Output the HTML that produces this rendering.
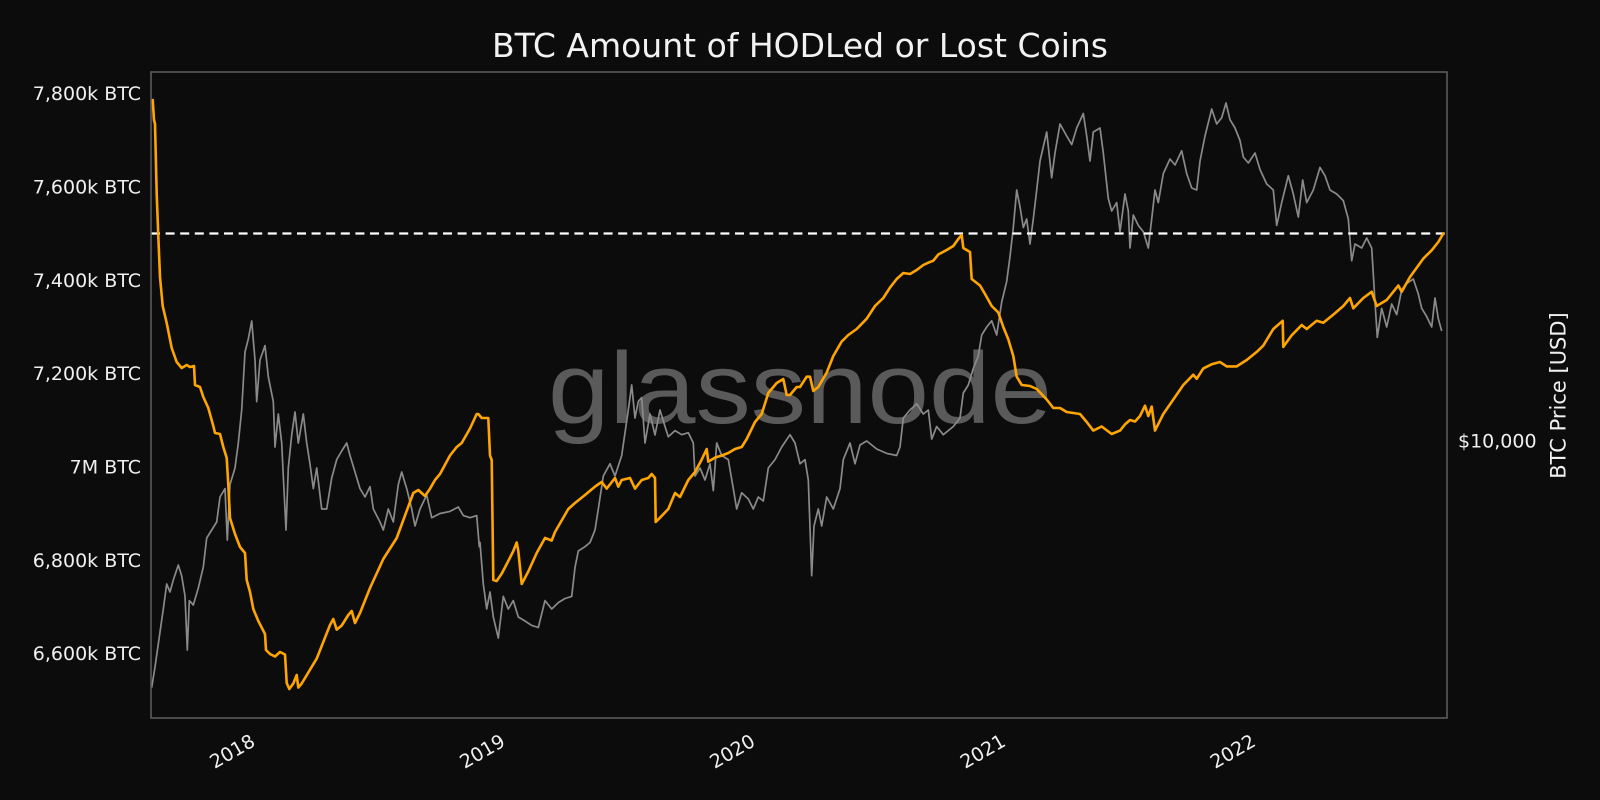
<!DOCTYPE html>
<html>
<head>
<meta charset="utf-8">
<style>
  html,body{margin:0;padding:0;background:#0c0c0c;}
  svg{display:block;}
  text{font-family:"DejaVu Sans","Liberation Sans",sans-serif;}
</style>
</head>
<body>
<svg width="1600" height="800" viewBox="0 0 1600 800" xmlns="http://www.w3.org/2000/svg">
  <rect x="0" y="0" width="1600" height="800" fill="#0c0c0c"/>

  <!-- title -->
  <text x="800" y="57" font-size="33" fill="#f2f2f2" text-anchor="middle">BTC Amount of HODLed or Lost Coins</text>

  <!-- watermark -->
  <text x="548" y="423" font-size="101" fill="#5a5a5a" textLength="504" lengthAdjust="spacingAndGlyphs" style="font-family:'Liberation Sans','DejaVu Sans',sans-serif;">glassnode</text>

  <!-- price line (gray) -->
  <polyline fill="none" stroke="#8a8a8a" stroke-width="1.7" stroke-linejoin="round" points="
151.7,687.6 155,667 158,646 163.3,609 166.7,584 170,592 173.3,580 178.3,565 181.7,576 185,596 187.3,650 189.3,600.6 193.3,605 198.3,588 203.3,567 206.7,538 211.7,530 216.7,522 220,497 225,488.6 227.3,540 230,484.5 235,468 238.3,443 241.7,410 245,352 248.3,339 251.7,321 255,360 256.7,401.6 260,360 265,345.6 268.3,376.7 273.3,401.6 275,447 278.3,414 281.7,443 283.3,476 286,530 288.3,468 291.7,435 295,412 298.3,443 303.3,414 306.7,443 310,464 313.3,488.6 316.7,468 321.7,509 326.7,509 331.7,478 336.7,459.6 341.7,451 346.7,443 350,455.5 355,472 360,488.6 365,497 370,486.6 373.3,509 380,522 383.3,530 388.3,509 393.3,522 398.3,484.5 401.7,472 406.7,488.6 411.7,509 415,526 420,509 426.7,495 431.7,517.7 440,513.5 450,511.4 458.3,507 463.3,515.6 470,517.7 476.7,515.6 479.3,546.7
480,542.5 483.3,584 486.7,609 490,592 493.3,617 498.3,638 503.3,596.4 508.3,609 513.3,600.6 518.3,617 525,621 531.7,625.4 538.3,627.5 545,600.6 551.7,609 558.3,602.6 565,598.5 571.7,596.4 575,567.4 578.3,551 585,546.7 590,542.5 595,530 598.3,509 603.3,476 610,463.8 615,476 621.7,455.5 628.3,410 631.7,385 635,418 638.3,401.6 641.7,397.5 645,443 650,414 655,435 660,410 665,426.5 668.3,436.8 675,430.6 681.7,434.7 688.3,432.7 693.3,443 695,476 700,468 705,480 710,463.8 713.3,490.7 716.7,443 721.7,455.5 728.3,459.6 733.3,488.6 736.7,509 741.7,492.8 748.3,499 753.3,509 758.3,497 763.3,501 768.3,468 775,459.6 781.7,447 790,434.7 795,443 800,463.8
805,459.6 808.3,480 811.7,575.7 814,526 818.3,509 821.7,526 826.7,497 833.3,509 840,488.6 843.3,459.6 850,443 855,463.8 860,445 866.7,441 876.7,449 886.7,453.4 896.7,455.5 900,447 903.3,418 910,410 916.7,403.7 923.3,414 928.3,410 931.7,439 936.7,426.5 943.3,434.7 953.3,426.5 960,418 963.3,393 968.3,385 973.3,368.4 978.3,356 981.7,335 986.7,327 991.7,320.8 996.7,335 1001.7,302 1006.7,281.4 1010,256.5 1013.3,227.5 1016.7,190 1020,206.8 1023.3,227.5 1026.7,219 1030,244 1033.3,219 1036.7,190 1040,161 1046.7,132 1051.7,177.8 1055,153 1060,124 1066.7,136 1071.7,144.6 1076.7,128 1083.3,113.5 1086.7,136 1090,161 1093.3,132 1100,128 1103.3,153 1108.3,198.5 1111.7,211 1116.7,202.6 1120,231.7 1125,194 1128.3,211
1130,248 1133.3,215 1138.3,225.4 1143.3,231.7 1148.3,248 1151.7,219 1155,190 1158.3,202.6 1163.3,173.6 1170,159 1175,165 1181.7,150.8 1186.7,173.6 1191.7,188 1196.7,190 1200,161 1205,136 1211.7,109 1216.7,124 1221.7,117.7 1226,103 1230,119.7 1235,128 1240,140.5 1243.3,157 1248.3,163 1255,153 1260,169.5 1266.7,184 1273.3,190 1276.7,225.4 1281.7,202.6 1288.3,175.7 1293.3,194 1298.3,217 1302.7,180 1306.7,202.6 1313.3,190 1320,167.4 1325,175.7 1330,190 1336.7,194 1343.3,200.6 1348.3,219 1351.7,260.7 1355,244 1361.7,248 1366.7,238 1371.7,248 1375,302 1377.3,337.4 1381.7,308.3 1386.7,327 1391.7,304 1396.7,314.6 1401.7,289.7 1406.7,283.5 1413.3,279 1418.3,294 1421.7,308.3 1426.7,316.6 1431.7,327 1435,298 1438.3,318.7 1441.7,331"/>

  <!-- dashed threshold -->
  <line x1="151" y1="233.5" x2="1447" y2="233.5" stroke="#ffffff" stroke-width="2.2" stroke-dasharray="9,5.6"/>

  <!-- HODL line (orange) -->
  <polyline fill="none" stroke="#ffa500" stroke-width="2.6" stroke-linejoin="round" stroke-linecap="round" points="
152.7,100 154,120 155,124 156.7,194 158.3,236 160,277 162.7,306 166.7,323 171.7,348 176.7,362 181.7,368 186.7,365 190,367 194,366 195,385 200,387 203.3,397 208.3,408 213.3,426 215,433 220,434 223.3,447 226.7,458 228.3,484.5 230,518 235,534 240,547 245,553 246.7,580 250,592 253.3,609 258.3,621 265,634 266,650 270,654 275,656.5 280,652 285,654.5 286.7,683 289.3,689 293.3,683.5 296.7,675 298.3,687.6 301.7,683.5 316.7,658.6 330,625 333.3,619 336.7,629.6 341.7,625.5 348.3,615 351.7,611 355,623 360,613 370,588 383.3,559 396.7,538 413.3,493 418.3,490 425,496 430,488.7 435,480 440,474 450,455.5 456.7,447 461.7,443 470,428.5 476.7,414
478.3,414 481.7,418 488.3,418 490,455.5 491.7,460 493.3,580 496.7,581 501.7,573.6 508.3,561 513.3,551 516.7,542.5 518.3,551 521.7,584 528.3,571.5 536.7,553 545,538 551.7,540.5 555,532 568.3,509 575,503 585,495 595,486.6 601.7,482 606.7,488.6 615,478 618.3,486.6 621.7,480 630,478 635,488.6 641.7,480 648.3,478 651.7,474 655,478 655.7,522 660,517.7 668.3,509 675,493 680,497 688.3,480 695,472 701.7,459.6 706.7,449 708.3,461.7 715,457.6 721.7,455.5 728.3,453 735,449 741.7,447 746.7,439 755,422 761.7,414 768.3,393 776.7,383 783.3,379 786.7,395 790,395 796.7,387
800,387 806.7,376.7 810,376.7 813.3,391 818.3,387 826.7,372.6 833.3,356 841.7,341.5 848.3,335 856.7,329 866.7,318.7 875,306 883.3,298 890,287.6 896.7,279 903.3,273 910,274 916.7,270 923.3,265 928.3,262.7 933.3,260.7 938.3,254.5 946.7,250 953.3,246 958.3,239 961.7,235 963.3,248 970,252 971.7,279 980,285.5 985,294 991.7,306 998.3,312.5 1003.3,327 1008.3,339.4 1013.3,356 1016.7,376.7 1021.7,385 1030,386 1036.7,389 1046.7,399.5 1053.3,408 1060,408 1066.7,412 1080,414 1086.7,422 1093.3,430.6 1101.7,426.5 1111.7,434 1120,430.6
1125,424.4 1130,420 1135,421.5 1140,416 1145,405.7 1148.3,416 1151.7,406.6 1155,430.6 1163.3,414 1173.3,399.5 1183.3,385 1193.3,374.7 1196.7,378.8 1203.3,368.4 1211.7,364.3 1220,362 1226.7,366.4 1236.7,366.4 1246.7,360 1256.7,351.9 1263.3,345.6 1273.3,329 1282.7,320.8 1283.3,346.9 1291.7,335.3 1301.7,325 1306.7,329 1316.7,320.8 1323.3,322.8 1333.3,314.6 1343.3,306 1350,298 1353.3,308.3 1363.3,298 1371.7,291.8 1376.7,306 1386.7,300 1398.3,285.5 1401.7,291.8 1410,277 1423.3,258.6 1431.7,250.3 1438.3,242 1443.3,233.5"/>

  <!-- frame -->
  <rect x="151" y="72" width="1296" height="646" fill="none" stroke="#606060" stroke-width="1.5"/>

  <!-- y-axis labels -->
  <g font-size="19" fill="#f0f0f0" text-anchor="end">
    <text x="141" y="100.2">7,800k BTC</text>
    <text x="141" y="193.5">7,600k BTC</text>
    <text x="141" y="286.8">7,400k BTC</text>
    <text x="141" y="380.2">7,200k BTC</text>
    <text x="141" y="473.5">7M BTC</text>
    <text x="141" y="566.8">6,800k BTC</text>
    <text x="141" y="660.2">6,600k BTC</text>
  </g>

  <!-- x-axis labels -->
  <g font-size="19" fill="#f0f0f0" text-anchor="end">
    <text transform="translate(256.5,745) rotate(-30)">2018</text>
    <text transform="translate(506.5,745) rotate(-30)">2019</text>
    <text transform="translate(756.5,745) rotate(-30)">2020</text>
    <text transform="translate(1007,745) rotate(-30)">2021</text>
    <text transform="translate(1257,745) rotate(-30)">2022</text>
  </g>

  <!-- right axis -->
  <text x="1458" y="447.5" font-size="19" fill="#f0f0f0">$10,000</text>
  <text transform="translate(1565.5,395.5) rotate(-90)" font-size="21" fill="#f0f0f0" text-anchor="middle">BTC Price [USD]</text>
</svg>
</body>
</html>
